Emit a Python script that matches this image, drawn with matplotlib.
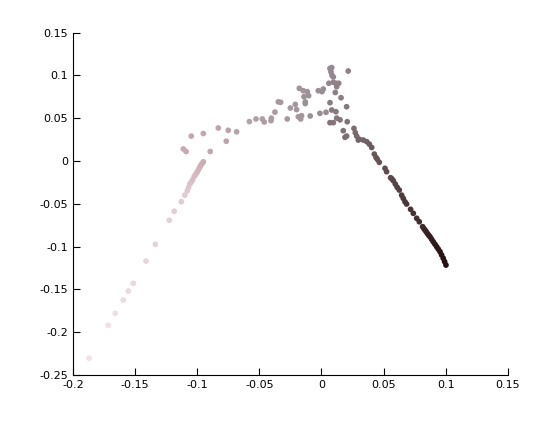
import matplotlib
matplotlib.use('Agg')
import matplotlib.pyplot as plt
import numpy as np
from matplotlib.colors import LinearSegmentedColormap

# points listed in order along the curve (light -> dark)
x_tail = [-0.187, -0.1716, -0.166, -0.1595, -0.1555, -0.1515, -0.1412, -0.1337, -0.1225, -0.1185,
          -0.1128, -0.110, -0.108, -0.107, -0.106, -0.1047, -0.1037, -0.1024, -0.1014, -0.1004,
          -0.0995, -0.0986, -0.0978, -0.097, -0.096, -0.0951]
y_tail = [-0.2305, -0.192, -0.178, -0.1625, -0.152, -0.143, -0.117, -0.0974, -0.0693, -0.0588,
          -0.0476, -0.040, -0.035, -0.031, -0.027, -0.0245, -0.022, -0.018, -0.016, -0.0138,
          -0.0115, -0.009, -0.007, -0.0048, -0.003, -0.001]

x_mid = [-0.1112, -0.109, -0.1048, -0.0951, -0.0895, -0.083, -0.0766, -0.075, -0.0683, -0.058,
         -0.0527, -0.0476, -0.046, -0.0403, -0.0406, -0.0374, -0.0347, -0.0328, -0.0275, -0.025,
         -0.021, -0.020, -0.0186, -0.0167, -0.016, -0.0178, -0.0146, -0.0114, -0.0103, -0.014,
         -0.013, -0.013, -0.009, -0.0025, 0.0005, 0.0015, -0.0012, 0.0037]
y_mid = [0.014, 0.011, 0.029, 0.032, 0.011, 0.0385, 0.023, 0.0358, 0.034, 0.046,
         0.049, 0.049, 0.0455, 0.050, 0.047, 0.057, 0.069, 0.0685, 0.049, 0.0618,
         0.066, 0.060, 0.0516, 0.049, 0.0528, 0.0848, 0.082, 0.0809, 0.0762, 0.075,
         0.069, 0.067, 0.0525, 0.082, 0.081, 0.084, 0.0556, 0.0568]

x_top = [0.0069, 0.0083, 0.0077, 0.0085, 0.0096, 0.006, 0.0096, 0.0117, 0.0139, 0.0123,
         0.0216, 0.0112, 0.0158, 0.0069, 0.0083, 0.0117, 0.0203, 0.0123, 0.015, 0.0096,
         0.0069, 0.0208, 0.0176, 0.019, 0.0203]
y_top = [0.108, 0.109, 0.104, 0.100, 0.098, 0.0907, 0.0918, 0.0907, 0.0907, 0.0867,
         0.105, 0.080, 0.0738, 0.068, 0.0595, 0.0575, 0.0633, 0.050, 0.048, 0.0447,
         0.0447, 0.0458, 0.0353, 0.0276, 0.029]

x_right = [0.0262, 0.0273, 0.0284, 0.0297, 0.0305, 0.0337, 0.0365, 0.0386, 0.0405, 0.0426,
           0.044, 0.045, 0.0466, 0.0512, 0.0525, 0.0557, 0.0568, 0.0579, 0.0595, 0.061,
           0.0627, 0.0646, 0.0659, 0.0673, 0.0686, 0.0718, 0.074, 0.0767, 0.0788, 0.0815,
           0.0825, 0.0834, 0.0843, 0.0852, 0.0863, 0.0874, 0.0887, 0.090, 0.0914, 0.0928,
           0.0941, 0.0955, 0.0968, 0.0981, 0.0992, 0.1003]
y_right = [0.038, 0.033, 0.029, 0.0244, 0.0253, 0.0244, 0.0225, 0.0196, 0.0157, 0.008,
           0.004, 0.002, -0.0016, -0.0086, -0.0126, -0.0196, -0.021, -0.0231, -0.027, -0.0308,
           -0.034, -0.040, -0.0437, -0.0477, -0.0503, -0.0565, -0.0612, -0.067, -0.071, -0.0768,
           -0.079, -0.0807, -0.0825, -0.0845, -0.0865, -0.0885, -0.0913, -0.0943, -0.0972, -0.1002,
           -0.103, -0.106, -0.1098, -0.1137, -0.1176, -0.1216]

x = np.array(x_tail + x_mid + x_top + x_right)
y = np.array(y_tail + y_mid + y_top + y_right)
order = np.arange(len(x))

cmap = LinearSegmentedColormap.from_list(
    'mauve', [(0.0, '#f0e2e5'), (0.2, '#c8a9b0'), (0.3, '#a89ca2'), (0.5, '#958890'),
              (0.66, '#7e6e72'), (0.78, '#5c4a4c'), (0.9, '#3a2626'), (1.0, '#241010')])

plt.rcParams['axes.unicode_minus'] = False
fig = plt.figure(figsize=(5.6, 4.21), dpi=100)
ax = fig.add_axes([0.1304, 0.1093, 0.7762, 0.8135])
ax.scatter(x, y, c=order, cmap=cmap, s=17, linewidths=0)

ax.set_xlim(-0.2, 0.15)
ax.set_ylim(-0.25, 0.15)
ax.set_xticks(np.arange(-0.2, 0.1501, 0.05))
ax.set_yticks(np.arange(-0.25, 0.1501, 0.05))
fmt = plt.FuncFormatter(lambda v, p: '%g' % (round(v, 3) + 0.0))
ax.xaxis.set_major_formatter(fmt)
ax.yaxis.set_major_formatter(fmt)
ax.spines['top'].set_visible(False)
ax.spines['right'].set_visible(False)
ax.tick_params(direction='in', length=5, labelsize=8, width=0.8)

fig.savefig('out.png', dpi=100)
